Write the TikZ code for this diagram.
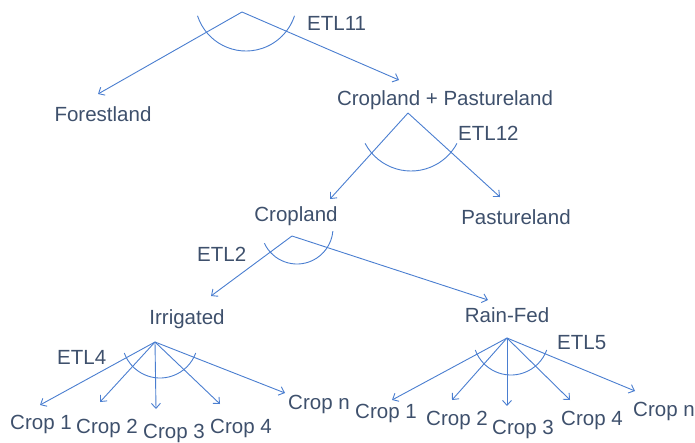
\documentclass[tikz,border=0pt]{standalone}
\usepackage{fontspec}
\setmainfont{Liberation Sans}
\usetikzlibrary{arrows.meta}
\definecolor{zweigblau}{RGB}{74,126,208}
\definecolor{textgrau}{RGB}{62,80,108}
\begin{document}
\begin{tikzpicture}[x=1pt,y=-1pt,
    lbl/.style={text=textgrau,font=\fontsize{20.5}{23}\selectfont,inner sep=0pt},
    zweig/.style={draw=zweigblau,line width=0.9pt,-{Straight Barb[length=5pt,width=9pt]}},
    bogen/.style={draw=zweigblau,line width=0.9pt}]
    \useasboundingbox (0,0) rectangle (695,442);

    % 第一层
    \coordinate (top) at (242,12);
    \coordinate (tforest) at (98,94);
    \coordinate (tcp) at (399,80);
    \node[lbl] (forest) at (103,114) {Forestland};
    \node[lbl] (cropPasture) at (445,100) {Cropland + Pastureland};
    \node[lbl, anchor=west] (etlA) at (307,23) {ETL11};
    \draw[zweig] (top) -- (tforest);
    \draw[zweig] (top) -- (tcp);
    \draw[bogen] (246,0) ++(162:51) arc (162:18:51);

    % 第二层
    \coordinate (cpRoot) at (408,113);
    \coordinate (tcrop) at (330,199);
    \coordinate (tpasture) at (500,197);
    \node[lbl] (crop) at (296,216) {Cropland};
    \node[lbl] (pasture) at (516,217) {Pastureland};
    \node[lbl, anchor=west] (etlB) at (458,133) {ETL12};
    \draw[zweig] (cpRoot) -- (tcrop);
    \draw[zweig] (cpRoot) -- (tpasture);
    \draw[bogen] (411,119) ++(152:52) arc (152:28:52);

    % 第三层
    \coordinate (cropRoot) at (292,236);
    \coordinate (tirr) at (211,296);
    \coordinate (train) at (488,300);
    \node[lbl] (irr) at (187,319) {Irrigated};
    \node[lbl] (rain) at (507,315) {Rain-Fed};
    \node[lbl, anchor=west] (etlC) at (197,254) {ETL2};
    \draw[zweig] (cropRoot) -- (tirr);
    \draw[zweig] (cropRoot) -- (train);
    \draw[bogen] (297,228) ++(155:36) arc (155:5:36);

    % Irrigated 下的作物
    \coordinate (irrRoot) at (155,342);
    \coordinate (ti1) at (40,405);
    \coordinate (ti2) at (100,402);
    \coordinate (ti3) at (156,409);
    \coordinate (ti4) at (220,404);
    \coordinate (tin) at (285,393);
    \node[lbl] (i1) at (41,424) {Crop 1};
    \node[lbl] (i2) at (107,428) {Crop 2};
    \node[lbl] (i3) at (174,433) {Crop 3};
    \node[lbl] (i4) at (241,428) {Crop 4};
    \node[lbl] (in) at (319,404) {Crop n};
    \node[lbl, anchor=west] (etlD) at (57,357) {ETL4};
    \draw[zweig] (irrRoot) -- (ti1);
    \draw[zweig] (irrRoot) -- (ti2);
    \draw[zweig] (irrRoot) -- (ti3);
    \draw[zweig] (irrRoot) -- (ti4);
    \draw[zweig] (irrRoot) -- (tin);
    \draw[bogen] (160,340) ++(160:38) arc (160:20:38);

    % Rain-Fed 下的作物
    \coordinate (rainRoot) at (507,338);
    \coordinate (tr1) at (392,400);
    \coordinate (tr2) at (452,400);
    \coordinate (tr3) at (507,406);
    \coordinate (tr4) at (570,400);
    \coordinate (trn) at (635,391);
    \node[lbl] (r1) at (386,413) {Crop 1};
    \node[lbl] (r2) at (457,420) {Crop 2};
    \node[lbl] (r3) at (523,429) {Crop 3};
    \node[lbl] (r4) at (592,420) {Crop 4};
    \node[lbl] (rn) at (664,411) {Crop n};
    \node[lbl, anchor=west] (etlE) at (557,343) {ETL5};
    \draw[zweig] (rainRoot) -- (tr1);
    \draw[zweig] (rainRoot) -- (tr2);
    \draw[zweig] (rainRoot) -- (tr3);
    \draw[zweig] (rainRoot) -- (tr4);
    \draw[zweig] (rainRoot) -- (trn);
    \draw[bogen] (511,337) ++(160:38) arc (160:20:38);
\end{tikzpicture}
\end{document}
